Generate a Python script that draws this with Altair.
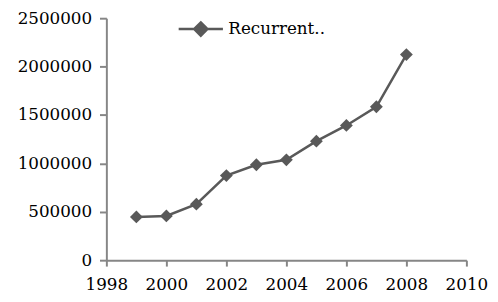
import altair as alt
import pandas as pd

years = [1999, 2000, 2001, 2002, 2003, 2004, 2005, 2006, 2007, 2008]
values = [447000, 457000, 579000, 874000, 986000, 1037000, 1230000, 1392000, 1585000, 2124000]
series = ["Recurrent.."] * len(years)

df = pd.DataFrame({"year": years, "value": values, "series": series})

FONT = "DejaVu Serif"
GREY = "#595959"

legend_path = "M-1,0L1,0M0,-0.3L0.3,0L0,0.3L-0.3,0Z"

base = alt.Chart(df).encode(
    x=alt.X("year:Q",
            scale=alt.Scale(domain=[1998, 2010], nice=False, zero=False),
            axis=alt.Axis(values=[1998, 2000, 2002, 2004, 2006, 2008, 2010],
                          format="d", title=None, grid=False,
                          domainColor="#868686", tickColor="#868686",
                          domainWidth=2, tickWidth=2, tickSize=6,
                          labelFont=FONT, labelFontSize=17, labelColor="black",
                          labelPadding=11, labelOverlap=False, labelFlush=False)),
    y=alt.Y("value:Q",
            scale=alt.Scale(domain=[0, 2500000], nice=False),
            axis=alt.Axis(values=[0, 500000, 1000000, 1500000, 2000000, 2500000],
                          format="d", title=None, grid=False,
                          domainColor="#868686", tickColor="#868686",
                          domainWidth=2, tickWidth=2, tickSize=7,
                          labelFont=FONT, labelFontSize=17, labelColor="black",
                          labelPadding=8, labelOverlap=False, labelFlush=False)),
    color=alt.Color("series:N",
                    scale=alt.Scale(range=[GREY]),
                    legend=alt.Legend(title=None, orient="none",
                                      legendX=72, legendY=-13,
                                      symbolType=legend_path,
                                      symbolSize=2025,
                                      symbolStrokeWidth=2.5,
                                      symbolFillColor=GREY,
                                      symbolStrokeColor=GREY,
                                      labelFont=FONT, labelFontSize=17,
                                      labelColor="black", labelOffset=4,
                                      padding=0)),
)

line = base.mark_line(strokeWidth=2.5)
pts = base.mark_point(shape="diamond", size=170, filled=True, opacity=1)

chart = (line + pts).properties(
    width=366, height=246,
    autosize=alt.AutoSizeParams(type="none"),
    padding={"left": 100, "top": 8, "right": 24, "bottom": 32},
).configure_view(stroke=None)

chart.save("out.html", embed_options={"renderer": "svg", "actions": False})
